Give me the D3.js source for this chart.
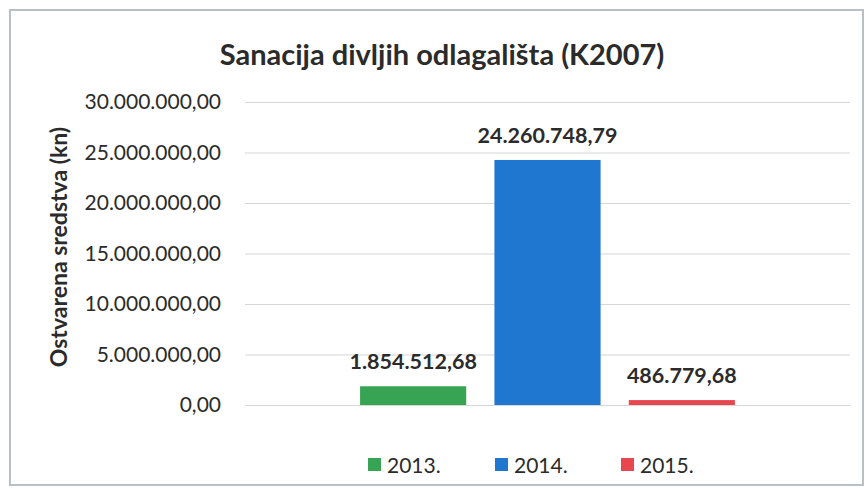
<!DOCTYPE html>
<html>
<head>
<meta charset="utf-8">
<script src="https://cdn.jsdelivr.net/npm/d3@7"></script>
<style>
  body { margin: 0; background: #fff; }
  svg { display: block; font-family: Lato, "Open Sans", sans-serif; }
</style>
</head>
<body>
<svg id="chart" width="866" height="489"></svg>
<script>
const categories = ["K2007"];
const series = ["2013.", "2014.", "2015."];
const values = [1854512.68, 24260748.79, 486779.68];
const yTicks = [0, 5000000, 10000000, 15000000, 20000000, 25000000, 30000000];
const colors = ["#37a454", "#1f77cf", "#e8474f"];

const svg = d3.select("#chart");
const margin = { top: 102, right: 16, bottom: 84, left: 245 };
const width = 866, height = 489;

// formatting like 24.260.748,79
const hr = d3.formatLocale({ decimal: ",", thousands: ".", grouping: [3], currency: ["", " kn"] });
const fmt = hr.format(",.2f");

// chart border
svg.append("rect")
    .attr("x", 10).attr("y", 10)
    .attr("width", 853).attr("height", 475)
    .attr("fill", "#fff")
    .attr("stroke", "#b9bfc2")
    .attr("stroke-width", 2);

const x0 = d3.scaleBand()
    .domain(categories)
    .range([margin.left, width - margin.right])
    .paddingInner(0)
    .paddingOuter(0.307);

const x1 = d3.scaleBand()
    .domain(series)
    .range([0, x0.bandwidth()])
    .paddingInner(0.21)
    .paddingOuter(0);

const y = d3.scaleLinear()
    .domain([0, 30000000])
    .range([height - margin.bottom, margin.top]);

const color = d3.scaleOrdinal().domain(series).range(colors);

// gridlines + tick labels
const yAxis = svg.append("g")
    .attr("transform", `translate(${margin.left},0)`)
    .call(d3.axisLeft(y).tickValues(yTicks).tickFormat(fmt)
      .tickSize(-(width - margin.right - margin.left)).tickPadding(24));
yAxis.select(".domain").remove();
yAxis.selectAll(".tick line").attr("stroke", "#d4d6d8").attr("stroke-width", 1.2);
yAxis.selectAll(".tick text")
    .attr("fill", "#2b2b2b")
    .attr("font-size", 21)
    .attr("font-family", "Lato, sans-serif");

// bars
const data = series.map((s, i) => ({ key: s, value: values[i] }));
const grp = svg.append("g").attr("transform", `translate(${x0("K2007")},0)`);

grp.selectAll("rect")
  .data(data)
  .join("rect")
    .attr("x", d => x1(d.key))
    .attr("y", d => y(d.value))
    .attr("width", x1.bandwidth())
    .attr("height", d => y(0) - y(d.value))
    .attr("fill", d => color(d.key));

grp.selectAll("text.lbl")
  .data(data)
  .join("text")
    .attr("class", "lbl")
    .attr("x", d => x1(d.key) + x1.bandwidth() / 2)
    .attr("y", d => y(d.value) - 17)
    .attr("text-anchor", "middle")
    .attr("font-size", 21.5)
    .attr("font-weight", "bold")
    .attr("fill", "#2b2b2b")
    .text(d => fmt(d.value));

// title
svg.append("text")
    .attr("x", 442).attr("y", 65)
    .attr("text-anchor", "middle")
    .attr("font-size", 29)
    .attr("font-weight", "bold")
    .attr("fill", "#2b2b2b")
    .text("Sanacija divljih odlagališta (K2007)");

// y axis title
svg.append("text")
    .attr("transform", "translate(67,247) rotate(-90)")
    .attr("text-anchor", "middle")
    .attr("font-size", 23)
    .attr("font-weight", "bold")
    .attr("fill", "#2b2b2b")
    .text("Ostvarena sredstva (kn)");

// legend
const legendX = [368, 495, 621];
const legend = svg.append("g")
  .selectAll("g")
  .data(series)
  .join("g")
    .attr("transform", (d, i) => `translate(${legendX[i]},465)`);
legend.append("rect")
    .attr("x", 0).attr("y", -7)
    .attr("width", 13).attr("height", 13)
    .attr("fill", d => color(d));
legend.append("text")
    .attr("x", 19).attr("y", 7.5)
    .attr("font-size", 21)
    .attr("fill", "#2b2b2b")
    .text(d => d);
</script>
</body>
</html>
